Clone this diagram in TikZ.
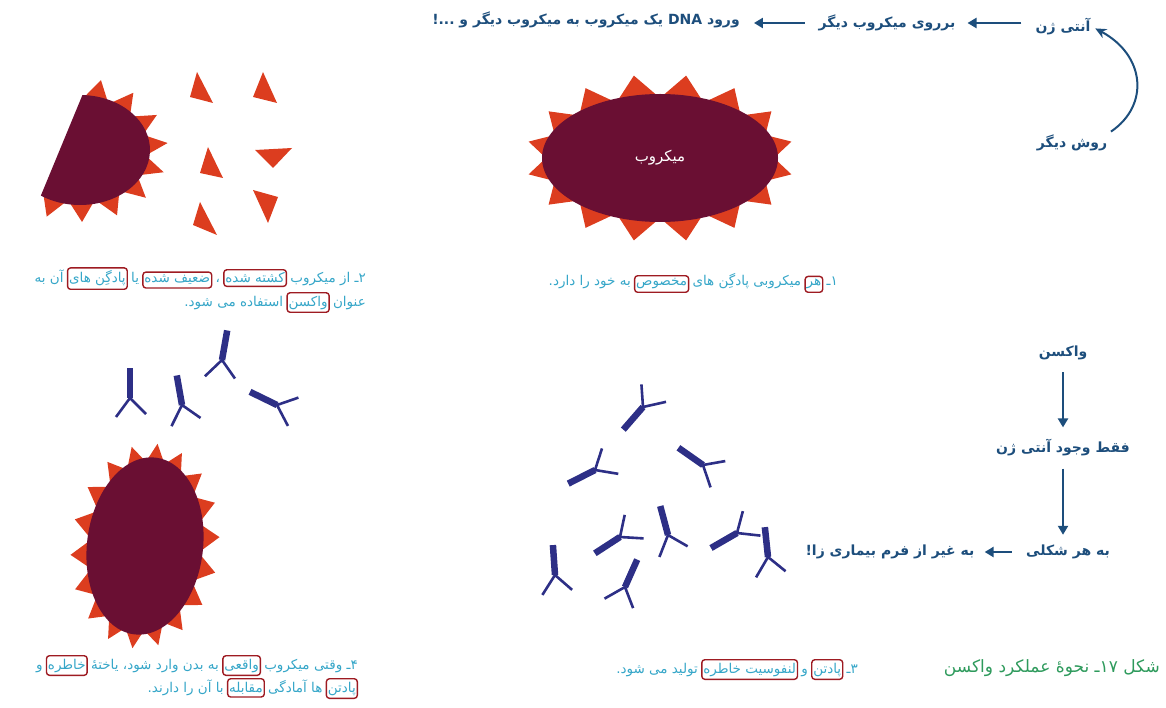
\documentclass[tikz,border=0pt]{standalone}
\usepackage{fontspec}
\newfontfamily\fa[Script=Arabic]{DejaVu Sans}
\TeXXeTstate=1
\usetikzlibrary{arrows.meta}

\definecolor{labelblue}{HTML}{1D4E7C}
\definecolor{captext}{HTML}{35A6C8}
\definecolor{titlegreen}{HTML}{2E9A5C}
\definecolor{boxred}{HTML}{9E1B22}
\definecolor{microbe}{HTML}{6A0F33}
\definecolor{spikered}{HTML}{DC3D1F}
\definecolor{abblue}{HTML}{2D2F86}

\tikzset{
	tag/.style={font=\fa\bfseries\fontsize{14}{16}\selectfont, text=labelblue, inner sep=2pt},
	note/.style={font=\fa\fontsize{13.5}{22}\selectfont, text=captext, inner sep=0pt},
	boxed/.style={draw=boxred, line width=1.4pt, rounded corners=3pt, inner xsep=1.5pt, inner ysep=3pt},
	flow/.style={draw=labelblue, line width=2.6pt, -{Triangle[length=9pt,width=10pt]}},
	spike/.style={fill=spikered},
	body/.style={fill=microbe},
	stem/.style={draw=abblue, line width=6.5pt},
	arm/.style={draw=abblue, line width=2.6pt},
	antibody/.pic={
		\draw[stem] (0,0) -- (0,-30);
		\draw[arm] (0,0) -- (-14,19) (0,0) -- (16,16);
	}
}

% next piece of a caption, set to the left of the one before
\newcommand\seg[4]{\node (#1) [note, #2, anchor=base east] at ([xshift=-3pt]#3.base west) {#4};}

% fan of spikes: inner radii, outer radii, from angle, to angle, count
\newcommand\spikearc[7]{%
	\fill[spike] (0,0) \foreach \k in {1,...,#7}{
		-- ({#5+(\k-1)*(#6-(#5))/#7}:#1 and #2)
		-- ({#5+(\k-0.5)*(#6-(#5))/#7}:#3 and #4)}
		-- (#6:#1 and #2) -- cycle;}

\begin{document}
\begin{tikzpicture}[x=1pt, y=-1pt]
	\useasboundingbox (0,0) rectangle (1166,708);

	% broken microbe and loose antigens
	\begin{scope}[shift={(80,150)}]
		\spikearc{66}{51}{88}{72}{-88}{124}{9}
		\fill[body] (-88:70 and 55) arc[start angle=-88, end angle=124, x radius=70, y radius=55] -- cycle;
	\end{scope}
	\fill[spike] (197,72) -- (190,97) -- (213,103) -- cycle;
	\fill[spike] (263,72) -- (253,97) -- (277,103) -- cycle;
	\fill[spike] (208,147) -- (200,173) -- (223,178) -- cycle;
	\fill[spike] (255,150) -- (292,148) -- (273,168) -- cycle;
	\fill[spike] (253,190) -- (278,197) -- (268,223) -- cycle;
	\fill[spike] (200,202) -- (193,225) -- (217,235) -- cycle;

	% whole microbe
	\begin{scope}[shift={(660,158)}]
		\spikearc{114}{60}{134}{84}{0}{360}{16}
		\fill[body] (0,0) ellipse [x radius=118, y radius=64];
	\end{scope}
	\node (mic) at (660,158) [font=\fa\fontsize{15}{17}\selectfont, text=white] {\beginR میکروب\endR};

	% microbe meeting the antibodies
	\begin{scope}[shift={(145,546)}, rotate=-7]
		\spikearc{54}{85}{74}{103}{0}{360}{18}
		\fill[body] (0,0) ellipse [x radius=58, y radius=89];
	\end{scope}
	\foreach \p/\r in {{130,398}/0, {182,405}/10, {222,360}/-10, {277,405}/64}
		\pic[rotate=\r] at (\p) {antibody};

	% antibodies made after the vaccine
	\foreach \p/\r in {{643,407}/139, {595,470}/117, {703,465}/55, {620,537}/123,
		{668,535}/15, {737,533}/120, {768,557}/6, {555,575}/4, {625,587}/-24}
		\pic[rotate=\r] at (\p) {antibody};

	% top chain
	\node (antigen) at (1063,27) [tag] {\beginR آنتی ژن\endR};
	\node (other) at (887,23) [tag] {\beginR برروی میکروب دیگر\endR};
	\node (dna) at (586,20) [tag] {\beginR ورود \beginL DNA\endL{} یک میکروب به میکروب دیگر و ...!\endR};
	\node (method) at (1072,143) [tag] {\beginR روش دیگر\endR};

	\draw[flow, shorten <=12pt, shorten >=10pt] (antigen.west |- other.east) -- (other.east);
	\draw[flow, shorten <=12pt, shorten >=12pt] (other.west) -- (other.west -| dna.east);
	\draw[labelblue, line width=2pt, -{Stealth[length=11pt,width=10pt]}, shorten <=2pt, shorten >=3pt]
		(method.north east) .. controls (1150,105) and (1145,55) .. (antigen.east);

	% right column
	\node (vaccine) at (1063,353) [tag] {\beginR واکسن\endR};
	\node (onlyag) at (1063,448) [tag] {\beginR فقط وجود آنتی ژن\endR};
	\node (anyform) at (1068,552) [tag] {\beginR به هر شکلی\endR};
	\node (nonpath) at (890,552) [tag] {\beginR به غیر از فرم بیماری زا!\endR};

	\draw[flow, shorten <=10pt, shorten >=10pt] (vaccine) -- (onlyag);
	\draw[flow, shorten <=10pt, shorten >=8pt] (onlyag.south) -- (onlyag.south |- anyform.north);
	\draw[flow, shorten <=12pt, shorten >=8pt] (anyform) -- (nonpath);

	% caption 1
	\node (ca) at (838,286) [note, anchor=base east] {\beginR ۱ـ\endR};
	\seg{cb}{boxed}{ca}{\beginR هر\endR}
	\seg{cc}{}{cb}{\beginR میکروبی پادگِن های\endR}
	\seg{cd}{boxed}{cc}{\beginR مخصوص\endR}
	\seg{ce}{}{cd}{\beginR به خود را دارد.\endR}

	% caption 2
	\node (da) at (366,283) [note, anchor=base east] {\beginR ۲ـ از میکروب\endR};
	\seg{db}{boxed}{da}{\beginR کشته شده\endR}
	\seg{dc}{}{db}{\beginR ،\endR}
	\seg{dd}{boxed}{dc}{\beginR ضعیف شده\endR}
	\seg{de}{}{dd}{\beginR یا\endR}
	\seg{df}{boxed}{de}{\beginR پادگِن های\endR}
	\seg{dg}{}{df}{\beginR آن به\endR}
	\node (dh) at (366,306) [note, anchor=base east] {\beginR عنوان\endR};
	\seg{di}{boxed}{dh}{\beginR واکسن\endR}
	\seg{dj}{}{di}{\beginR استفاده می شود.\endR}

	% caption 3
	\node (ea) at (858,673) [note, anchor=base east] {\beginR ۳ـ\endR};
	\seg{eb}{boxed}{ea}{\beginR پادتن\endR}
	\seg{ec}{}{eb}{\beginR و\endR}
	\seg{ed}{boxed}{ec}{\beginR لنفوسیت خاطره\endR}
	\seg{ee}{}{ed}{\beginR تولید می شود.\endR}

	% caption 4
	\node (fa) at (358,669) [note, anchor=base east] {\beginR ۴ـ وقتی میکروب\endR};
	\seg{fb}{boxed}{fa}{\beginR واقعی\endR}
	\seg{fc}{}{fb}{\beginR به بدن وارد شود، یاختهٔ\endR}
	\seg{fd}{boxed}{fc}{\beginR خاطره\endR}
	\seg{fe}{}{fd}{\beginR و\endR}
	\node (ff) at (358,692) [note, boxed, anchor=base east] {\beginR پادتن\endR};
	\seg{fg}{}{ff}{\beginR ها آمادگی\endR}
	\seg{fh}{boxed}{fg}{\beginR مقابله\endR}
	\seg{fi}{}{fh}{\beginR با آن را دارند.\endR}

	% figure title
	\node (title) at (1160,668) [note, anchor=east, text=titlegreen, font=\fa\fontsize{17}{20}\selectfont]
		{\beginR شکل ۱۷ـ نحوهٔ عملکرد واکسن\endR};
\end{tikzpicture}
\end{document}
